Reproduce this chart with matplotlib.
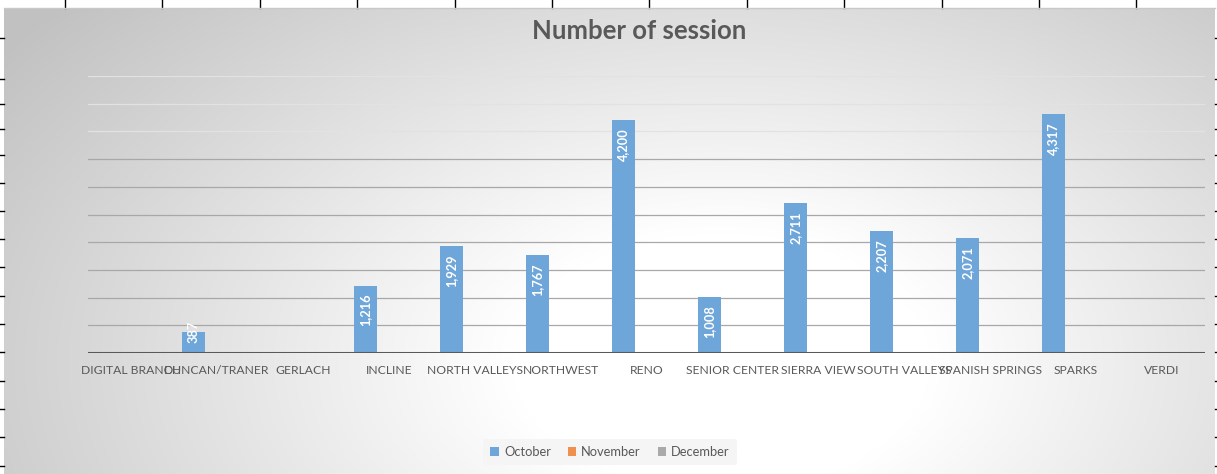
import numpy as np
import matplotlib
matplotlib.use("Agg")
import matplotlib.pyplot as plt
from matplotlib.patches import Patch

plt.rcParams['font.family'] = ['Lato', 'DejaVu Sans']

# ---- data ----
categories = ["DIGITAL BRANCH", "DUNCAN/TRANER", "GERLACH", "INCLINE", "NORTH VALLEYS",
              "NORTHWEST", "RENO", "SENIOR CENTER", "SIERRA VIEW", "SOUTH VALLEYS",
              "SPANISH SPRINGS", "SPARKS", "VERDI"]
october = [0, 387, 0, 1216, 1929, 1767, 4200, 1008, 2711, 2207, 2071, 4317, 0]
november = [0] * 13
december = [0] * 13
series_names = ["October", "November", "December"]
series_colors = ["#6fa6da", "#f0904f", "#a9a9a9"]
title = "Number of session"

W, H = 1217, 474
fig = plt.figure(figsize=(W / 100, H / 100), dpi=100)
fig.patch.set_facecolor("white")

# ---- background (chart area with radial gradient + spreadsheet cell ticks) ----
bg = fig.add_axes([0, 0, 1, 1])
bg.set_xlim(0, W)
bg.set_ylim(H, 0)
bg.axis("off")
yy, xx = np.mgrid[0:H, 0:W]
cx, cy, rx, ry = 720, 360, 700, 440
d = np.sqrt(((xx - cx) / rx) ** 2 + ((yy - cy) / ry) ** 2)
t = np.clip((d - 0.3) / 0.95, 0, 1)
v = 1.0 - (1.0 - 0.76) * t
img = np.dstack([v, v, v])
bg.imshow(img, extent=[4, 1215, H, 8], aspect="auto", interpolation="bilinear", zorder=0)
for x in [65, 162.4, 259.8, 357.2, 454.6, 552, 649.4, 746.8, 844.2, 941.6, 1039, 1136.4]:
    bg.plot([x, x], [0, 8], color="black", lw=1)
for y in [38, 79, 104, 129, 155, 183, 211, 239, 267, 296, 324, 352, 381, 409, 437, 466]:
    bg.plot([0, 4], [y, y], color="black", lw=1)
    bg.plot([1215, W], [y, y], color="black", lw=1)
bg.plot([4, 1215], [8, 8], color="#c8c8c8", lw=1)

# ---- main plot ----
ax = fig.add_axes([88 / W, 1 - 353 / H, (1205 - 88) / W, (353 - 76) / H])
ax.patch.set_alpha(0)
ax.set_ylim(0, 5000)
ax.set_xlim(-0.5, len(categories) - 0.5)
for s in ax.spines.values():
    s.set_visible(False)
for g in range(500, 5001, 500):
    ax.axhline(g, color="#e2e2e2" if g >= 4000 else "#a8a8a8", lw=0.9, zorder=1)
ax.axhline(0, color="#595959", lw=2.2, zorder=4)

x = np.arange(len(categories))
w = 0.268
for k, (vals, col) in enumerate(zip([october, november, december], series_colors)):
    ax.bar(x + (k - 1) * w, vals, width=w, color=col, zorder=3)

for xi, val in zip(x, october):
    if val <= 0:
        continue
    lab = f"{val:,}"
    if val > 800:
        ax.annotate(lab, xy=(xi - w, val), xytext=(0, -6), textcoords="offset points",
                    rotation=90, ha="center", va="top", color="white",
                    fontsize=9.2, fontweight="bold", zorder=5)
    else:
        ax.annotate(lab, xy=(xi - w, 0), xytext=(0, 7.5), textcoords="offset points",
                    rotation=90, ha="center", va="bottom", color="white",
                    fontsize=9.2, fontweight="bold", zorder=5)

ax.set_yticks([])
ax.set_xticks(x)
ax.set_xticklabels(categories, fontsize=8.7, color="#595959")
ax.tick_params(axis="x", length=0, pad=9)

fig.text(639 / W, 1 - 31 / H, title, ha="center", va="center", fontsize=18.5,
         fontweight="bold", color="#595959")

handles = [Patch(facecolor=c, edgecolor="none") for c in series_colors]
leg = fig.legend(handles, series_names, loc="center", bbox_to_anchor=(610 / W, 1 - 452 / H),
                 ncol=3, frameon=True, fontsize=9.3, handlelength=0.65, handleheight=0.65,
                 handletextpad=0.4, columnspacing=1.3, borderpad=0.55)
leg.get_frame().set_facecolor("#f5f5f5")
leg.get_frame().set_edgecolor("none")
leg.get_frame().set_alpha(1)
for t_ in leg.get_texts():
    t_.set_color("#595959")

fig.savefig("out.png", dpi=100)
